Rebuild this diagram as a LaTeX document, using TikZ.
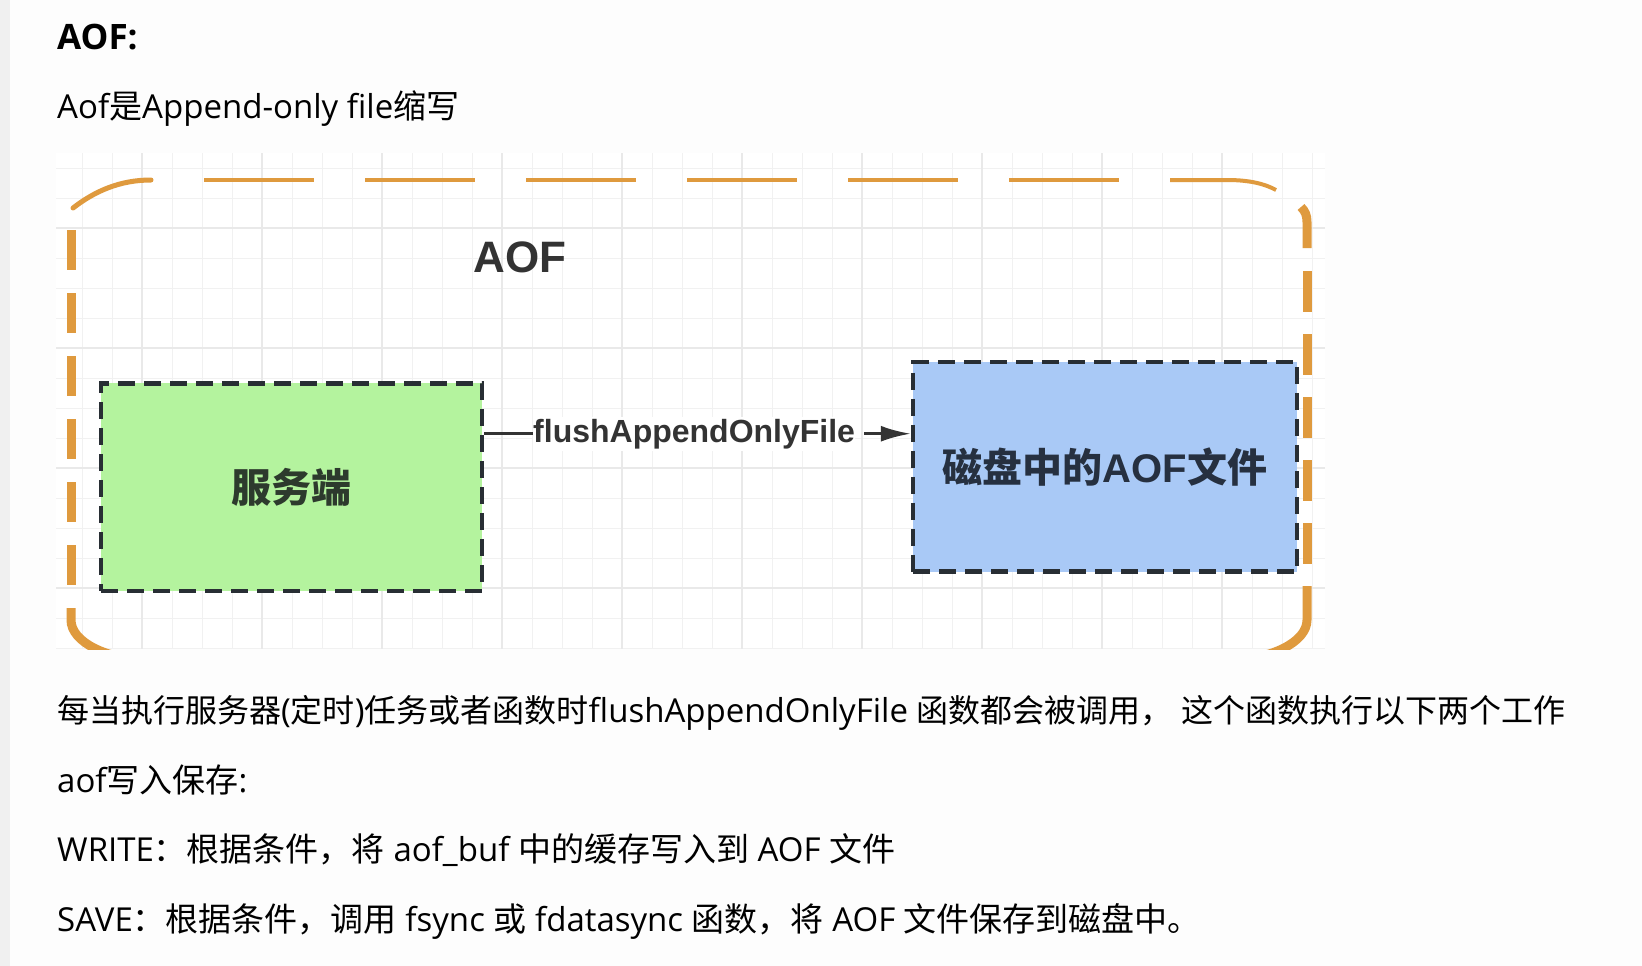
\documentclass[tikz,border=0pt]{standalone}
\usepackage{fontspec}
\setmainfont{Open Sans}
\newfontfamily\cjk{Noto Sans CJK SC}
\newfontfamily\dia{Liberation Sans}
\usetikzlibrary{arrows.meta}
\definecolor{pagebg}{RGB}{253,253,253}
\definecolor{strip}{RGB}{240,240,240}
\definecolor{gridminor}{RGB}{241,241,241}
\definecolor{gridmajor}{RGB}{233,233,233}
\definecolor{frameor}{RGB}{223,154,62}
\definecolor{greenfill}{RGB}{180,243,158}
\definecolor{bluefill}{RGB}{169,201,246}
\definecolor{boxline}{RGB}{40,46,52}
\definecolor{diatext}{RGB}{51,51,51}
\definecolor{srvtext}{RGB}{45,58,45}
\definecolor{disktext}{RGB}{38,48,64}
\newcommand\cjks{\cjk\fontsize{32pt}{40pt}\selectfont}
\begin{document}
\begin{tikzpicture}[x=1pt,y=-1pt,
  bodytext/.style={anchor=base west, inner sep=0, font=\fontsize{33pt}{40pt}\selectfont, text=black},
  dashbox/.style={draw=boxline, line width=4.5pt, dash pattern=on 17pt off 9pt, inner sep=0},
  hdash/.style={draw=frameor, line width=4pt},
  vdash/.style={draw=frameor, line width=9pt},
  cdash/.style={draw=frameor, line width=5pt, line cap=round},
  gminor/.style={draw=gridminor, line width=1pt},
  gmajor/.style={draw=gridmajor, line width=1.3pt},
  conn/.style={draw=diatext, line width=3pt},
]
\useasboundingbox (0,0) rectangle (1642,966);
\fill[pagebg] (0,0) rectangle (1642,966);
\fill[strip] (0,0) rectangle (10,966);

% grid image
\fill[white] (56,153) rectangle (1325,649);
\foreach \x in {82,112,...,1312} \draw[gminor] (\x,153) -- (\x,649);
\foreach \y in {168,198,...,648} \draw[gminor] (56,\y) -- (1325,\y);
\foreach \x in {142,262,...,1222} \draw[gmajor] (\x,153) -- (\x,649);
\foreach \y in {228,348,...,588} \draw[gmajor] (56,\y) -- (1325,\y);

% orange dashed frame
\begin{scope}
\clip (56,153) rectangle (1325,649);
\draw[cdash] (73,208) .. controls (95,191) and (120,180) .. (151,180);
\foreach \x in {204,365,526,687,848,1009} \draw[hdash] (\x,180) -- ++(110,0);
\draw[hdash] (1170,180) -- (1227,180) .. controls (1250,180) and (1265,184) .. (1276,190);
\draw[vdash] (1301,207) .. controls (1305,211) and (1307,215) .. (1307,222) -- (1307,248);
\foreach \y in {271,334,397,460,523} \draw[vdash] (1307,\y) -- ++(0,41);
\draw[vdash] (1307,586) -- (1307,620) .. controls (1307,642) and (1271,660) .. (1227,660);
\foreach \y in {230,293,356,419,482,545} \draw[vdash] (71,\y) -- ++(0,40);
\draw[vdash] (71,608) -- (71,620) .. controls (71,642) and (107,660) .. (151,660);
\end{scope}

% diagram
\node[font=\dia\bfseries\fontsize{44pt}{50pt}\selectfont, text=diatext, anchor=base, inner sep=0] (dtitle) at (520,272) {AOF};
\node[dashbox, fill=greenfill, minimum width=381pt, minimum height=207.5pt,
      font=\cjk\bfseries\fontsize{40pt}{44pt}\selectfont, text=srvtext] (srv) at (291.5,487) {服务端};
\node[dashbox, fill=bluefill, minimum width=384pt, minimum height=209.5pt,
      font=\fontsize{40pt}{44pt}\selectfont, text=disktext] (disk) at (1105,466.75)
      {{\cjk\bfseries 磁盘中的}{\dia\bfseries AOF}{\cjk\bfseries 文件}};
\node[font=\dia\bfseries\fontsize{32pt}{36pt}\selectfont, text=diatext, fill=white,
      inner xsep=0, inner ysep=2pt, anchor=base west] (lbl) at (533,442) {flushAppendOnlyFile};
\draw[conn] (srv.east |- lbl.west) -- (lbl.west);
\draw[conn, -{Latex[length=30pt,width=16pt]}] ([xshift=9pt]lbl.east) -- (disk.west |- lbl.east);

% text
\node[bodytext, font=\bfseries\fontsize{35pt}{40pt}\selectfont] (h1) at (57,50) {AOF:};
\node[bodytext] (h2) at (57,118) {Aof{\cjk 是}Append-only file{\cjk 缩写}};
\node[bodytext] (l1) at (57,722) {{\cjks 每当执行服务器}({\cjks 定时}){\cjks 任务或者函数时}flushAppendOnlyFile {\cjks 函数都会被调用，} {\cjks 这个函数执行以下两个工作}};
\node[bodytext] (l2) at (57,792) {aof{\cjk 写入保存}:};
\node[bodytext] (l3) at (57,861) {WRITE{\cjk ：根据条件，将} aof\_buf {\cjk 中的缓存写入到} AOF {\cjk 文件}};
\node[bodytext] (l4) at (57,931) {SAVE{\cjk ：根据条件，调用} fsync {\cjk 或} fdatasync {\cjk 函数，将} AOF {\cjk 文件保存到磁盘中。}};
\end{tikzpicture}
\end{document}
